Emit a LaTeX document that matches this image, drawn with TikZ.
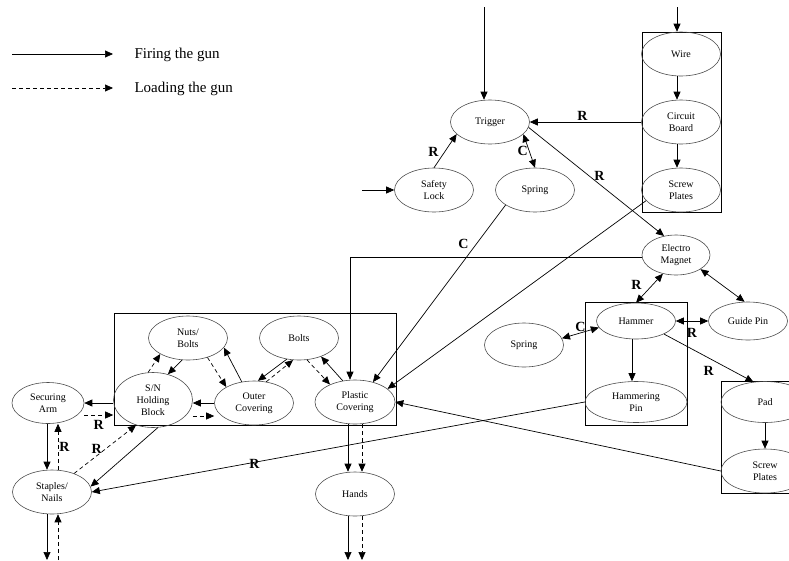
\documentclass[tikz,border=0pt]{standalone}
\usepackage{fontspec}
\setmainfont{Liberation Serif}
\usetikzlibrary{arrows.meta,positioning,shapes.geometric}

\begin{document}
\begin{tikzpicture}[x=1pt,y=-1pt,on grid,>={Triangle[length=8pt,width=7pt]},
  part/.style={ellipse,draw=black!70,line width=0.6pt,inner sep=0pt,align=center,
    font=\fontsize{10}{12}\selectfont,minimum width=79pt,minimum height=44pt},
  fire/.style={->,line width=0.7pt},
  load/.style={->,line width=0.7pt,dash pattern=on 4pt off 3pt},
  twoway/.style={<->,line width=0.7pt},
  grp/.style={draw,line width=0.8pt},
  lbl/.style={font=\fontsize{14}{14}\selectfont\bfseries,inner sep=1pt}]
  \useasboundingbox (0,0) rectangle (789,560);
  \clip (0,0) rectangle (789,560);

  % legend
  \coordinate (firea) at (12,54);
  \coordinate (fireb) at (113,54);
  \coordinate (loada) at (12,88);
  \coordinate (loadb) at (113,88);
  \draw[fire] (firea) -- (fireb);
  \draw[load] (loada) -- (loadb);
  \node[anchor=west,font=\fontsize{15}{18}\selectfont] (firetxt) at (131,55) {Firing the gun};
  \node[anchor=west,font=\fontsize{15}{18}\selectfont] (loadtxt) at (131,89) {Loading the gun};

  % boxes
  \draw[grp] (642,32) rectangle (721,212);
  \draw[grp] (114,313) rectangle (396,425);
  \draw[grp] (585,302) rectangle (687,425);
  \draw[grp] (721,381) rectangle (815,493);

  % parts
  \node[part] (trigger) at (490,122) {Trigger};
  \node[part] (wire) at (681,54) {Wire};
  \node[part, below=68pt of wire] (circuit) {Circuit\\Board};
  \node[part, below=68pt of circuit] (screwtop) {Screw\\Plates};
  \node[part] (safety) at (434,190) {Safety\\Lock};
  \node[part, right=101pt of safety] (springtop) {Spring};
  \node[part, minimum width=68pt, minimum height=40pt] (magnet) at (676,255) {Electro\\Magnet};
  \node[part, minimum height=36pt] (hammer) at (636,321) {Hammer};
  \node[part, minimum height=38pt, right=112pt of hammer] (guidepin) {Guide Pin};
  \node[part] (springmid) at (524,345) {Spring};
  \node[part, minimum width=102pt, minimum height=41pt, below=81pt of hammer] (hampin) {Hammering\\Pin};
  \node[part, minimum width=88pt, minimum height=41pt] (pad) at (765,402) {Pad};
  \node[part, minimum width=88pt, below=69pt of pad] (screwbot) {Screw\\Plates};
  \node[part, minimum width=72pt, minimum height=41pt] (securing) at (48,403) {Securing\\Arm};
  \node[part, minimum height=55pt] (snblock) at (153,400) {S/N\\Holding\\Block};
  \node[part] (nutsbolts) at (188,338) {Nuts/\\Bolts};
  \node[part, right=111pt of nutsbolts] (bolts) {Bolts};
  \node[part] (outer) at (254,403) {Outer\\Covering};
  \node[part, minimum width=80pt] (plastic) at (355,402) {Plastic\\Covering};
  \node[part] (staples) at (52,492) {Staples/\\Nails};
  \node[part, below=92pt of plastic] (hands) {Hands};

  % trigger side
  \coordinate (trigin) at (484,7);
  \coordinate (wirein) at (677,7);
  \coordinate (safein) at (362,190);
  \draw[fire] (trigin) -- (trigin |- trigger.north);
  \draw[fire] (wirein) -- (wirein |- wire.north);
  \draw[fire] ([xshift=-4]wire.south) -- ([xshift=-4]circuit.north);
  \draw[fire] ([xshift=-4]circuit.south) -- ([xshift=-4]screwtop.north);
  \draw[fire] (circuit.west) -- node[lbl, above, xshift=-3pt]{R} (trigger.east);
  \draw[fire] (safein) -- (safety.west);
  \draw[fire] (safety.north) -- node[lbl, xshift=-12pt, yshift=-1pt]{R} (trigger.200);
  \draw[twoway] (trigger.340) -- node[lbl, left]{C} (springtop.north);
  \draw[fire] (trigger.352) -- node[lbl, above, xshift=3pt]{R} (magnet.122);
  \draw[fire] (screwtop.197) -- (plastic.22);
  \draw[fire] (springtop.207) -- node[lbl, pos=0.22, xshift=-13pt]{C} (plastic.48);
  \draw[fire] ([yshift=-2]magnet.west) -| ([xshift=-5]plastic.north);

  % hammer side
  \draw[twoway] (magnet.235) -- node[lbl, xshift=-13pt, yshift=3pt]{R} (hammer.north);
  \draw[twoway] (magnet.330) -- (guidepin.100);
  \draw[twoway] (hammer.east) -- node[lbl, yshift=-12pt]{R} (guidepin.west);
  \draw[twoway] (hammer.190) -- node[lbl, above]{C} (springmid.10);
  \draw[fire] ([xshift=-4]hammer.south) -- ([xshift=-4]hampin.north);
  \draw[fire] (hammer.335) -- node[lbl, yshift=-13pt]{R} (pad.120);
  \draw[fire] (pad.south) -- (screwbot.north);
  \draw[fire] (screwbot.west) -- (plastic.east);
  \draw[fire] (hampin.west) -- node[lbl, pos=0.67, yshift=-2pt]{R} (staples.east);

  % securing side
  \draw[fire] ([xshift=-1]securing.south) -- ([xshift=-5]staples.north);
  \draw[load] ([xshift=6]staples.north) -- node[lbl, right]{R} ([xshift=10]securing.south);
  \draw[fire] ([yshift=-3]snblock.west) -- (securing.east);
  \draw[load] ([yshift=-12]securing.east) -- node[lbl, yshift=-10pt]{R} ([yshift=-15]snblock.west);
  \draw[load] (staples.40) -- node[lbl, left, xshift=-2pt]{R} (snblock.236);
  \draw[fire] (snblock.280) -- (staples.8);
  \coordinate (stout) at (47,560);
  \coordinate (stin) at (58,560);
  \draw[fire] ([xshift=-5]staples.south) -- (stout);
  \draw[load] (stin) -- ([xshift=6]staples.south);

  % inside the covering box
  \draw[load] (snblock.100) -- (nutsbolts.210);
  \draw[fire] (nutsbolts.255) -- (snblock.60);
  \draw[load] (nutsbolts.315) -- (outer.150);
  \draw[fire] (outer.120) -- (nutsbolts.345);
  \draw[fire] (bolts.240) -- (outer.80);
  \draw[load] (outer.60) -- (bolts.255);
  \draw[load] (bolts.290) -- (plastic.145);
  \draw[fire] (plastic.120) -- (bolts.320);
  \draw[fire] (outer.west) -- ([yshift=-3]snblock.east);
  \draw[load] ([yshift=-16]snblock.east) -- ([yshift=-13]outer.west);

  % hands
  \draw[fire] ([xshift=-7]plastic.south) -- ([xshift=-7]hands.north);
  \draw[load] ([xshift=7]plastic.south) -- ([xshift=7]hands.north);
  \coordinate (hdout) at (348,560);
  \coordinate (hdin) at (362,560);
  \draw[fire] ([xshift=-7]hands.south) -- (hdout);
  \draw[load] ([xshift=7]hands.south) -- (hdin);
\end{tikzpicture}
\end{document}
